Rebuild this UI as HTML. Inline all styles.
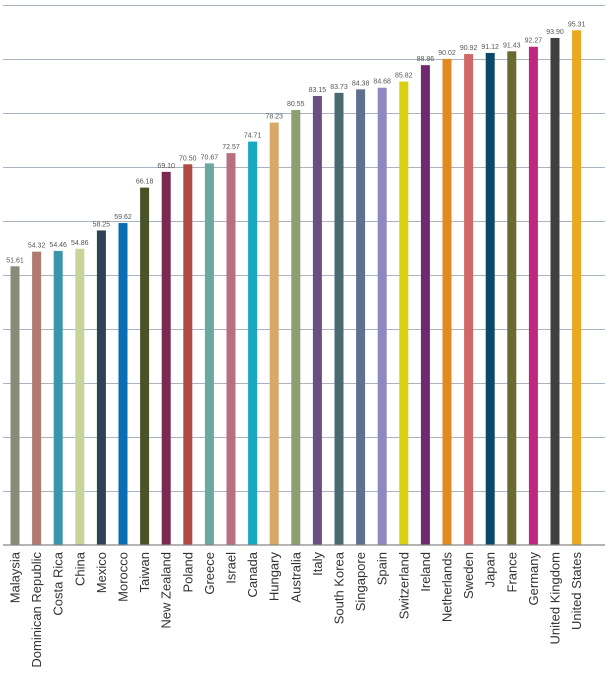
<!DOCTYPE html>
<html><head><style>body{margin:0;background:#fff}svg{display:block}</style></head><body>
<svg id="c" width="612" height="679" xmlns="http://www.w3.org/2000/svg" font-family="Liberation Sans, sans-serif">
<g stroke="#a9b4c0" stroke-width="1">
<line x1="3" x2="605" y1="5.5" y2="5.5"/><line x1="3" x2="605" y1="59.5" y2="59.5"/><line x1="3" x2="605" y1="113.5" y2="113.5"/><line x1="3" x2="605" y1="167.5" y2="167.5"/><line x1="3" x2="605" y1="221.5" y2="221.5"/><line x1="3" x2="605" y1="275.5" y2="275.5"/><line x1="3" x2="605" y1="329.5" y2="329.5"/><line x1="3" x2="605" y1="383.5" y2="383.5"/><line x1="3" x2="605" y1="437.5" y2="437.5"/><line x1="3" x2="605" y1="491.5" y2="491.5"/>
</g>
<g id="bars"></g>
<line x1="3" x2="605" y1="545" y2="545" stroke="#888" stroke-width="1.2"/>
</svg>
<script>
var d=[["Malaysia",51.61,"#8a8a78"],["Dominican Republic",54.32,"#b07a70"],["Costa Rica",54.46,"#3a96a8"],["China",54.86,"#c8d49a"],["Mexico",58.25,"#2e4256"],["Morocco",59.62,"#0a6eb4"],["Taiwan",66.18,"#4a5228"],["New Zealand",69.10,"#7a2a50"],["Poland",70.50,"#b04a44"],["Greece",70.67,"#6aa8a0"],["Israel",72.57,"#b87080"],["Canada",74.71,"#1aa8c0"],["Hungary",78.23,"#d8a868"],["Australia",80.55,"#8aa070"],["Italy",83.15,"#6a5080"],["South Korea",83.73,"#4a6a70"],["Singapore",84.38,"#607090"],["Spain",84.68,"#9088c0"],["Switzerland",85.82,"#d8d010"],["Ireland",88.86,"#702870"],["Netherlands",90.02,"#e08a20"],["Sweden",90.92,"#d06868"],["Japan",91.12,"#0a4a68"],["France",91.43,"#6a6a30"],["Germany",92.27,"#c02880"],["United Kingdom",93.90,"#404040"],["United States",95.31,"#e8a820"]];
var s="";
d.forEach(function(r,i){var cx=15+i*21.6,y=545-r[1]*5.4;
s+='<rect x="'+(cx-4.5)+'" y="'+y+'" width="9" height="'+(545-y)+'" fill="'+r[2]+'"/>';
s+='<text x="'+cx+'" y="'+(y-4)+'" font-size="7" fill="#555" text-anchor="middle">'+r[1].toFixed(2)+'</text>';
s+='<text transform="translate('+(cx+4.5)+',552) rotate(-90)" font-size="13" fill="#333" text-anchor="end">'+r[0]+'</text>';});
document.getElementById("bars").innerHTML=s;
</script>
</body></html>
